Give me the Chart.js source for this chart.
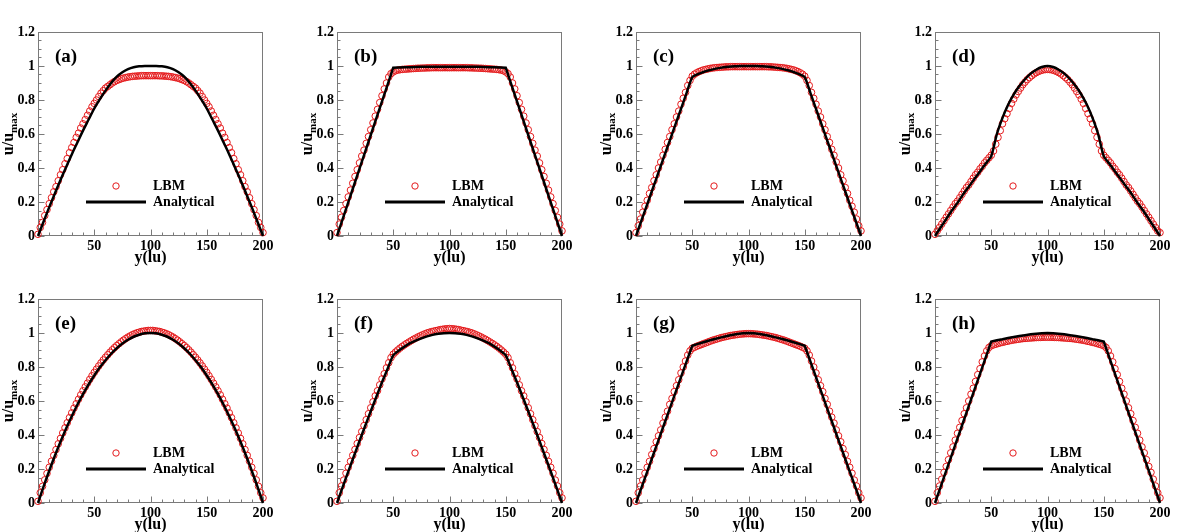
<!DOCTYPE html>
<html>
<head>
<meta charset="utf-8">
<script src="https://cdn.jsdelivr.net/npm/chart.js@4.4.1/dist/chart.umd.min.js"></script>
<style>
  body { margin: 0; background: #fff; }
  #wrap { position: relative; width: 1196px; height: 532px; }
  .cell { position: absolute; width: 299px; height: 266px; }
</style>
</head>
<body>
<div id="wrap"></div>
<script>
// sample positions across the channel (lu)
const X_LBM = [0,2,4,6,8,10,12,14,16,18,20,22,24,26,28,30,32,34,36,38,40,42,44,46,48,50,52,54,56,58,60,62,64,66,68,70,72,74,76,78,80,82,84,86,88,90,92,94,96,98,100,102,104,106,108,110,112,114,116,118,120,122,124,126,128,130,132,134,136,138,140,142,144,146,148,150,152,154,156,158,160,162,164,166,168,170,172,174,176,178,180,182,184,186,188,190,192,194,196,198,200];
const X_ANA = [0,5,10,15,20,25,30,35,40,45,50,55,60,65,70,75,80,85,90,95,100,105,110,115,120,125,130,135,140,145,150,155,160,165,170,175,180,185,190,195,200];

// (a)
const ANA_A = [0,0.085,0.17,0.25,0.33,0.405,0.48,0.55,0.62,0.685,0.75,0.805,0.855,0.9,0.937,0.963,0.982,0.993,0.998,1.0,1.0,1.0,0.998,0.993,0.982,0.963,0.937,0.9,0.855,0.805,0.75,0.685,0.62,0.55,0.48,0.405,0.33,0.25,0.17,0.085,0];
const LBM_A = [0.01,0.05,0.08,0.12,0.155,0.19,0.225,0.26,0.29,0.325,0.36,0.39,0.425,0.455,0.49,0.52,0.55,0.58,0.605,0.635,0.66,0.685,0.71,0.735,0.76,0.78,0.80,0.82,0.84,0.855,0.87,0.88,0.89,0.90,0.908,0.915,0.92,0.925,0.929,0.932,0.935,0.937,0.939,0.94,0.941,0.942,0.943,0.943,0.943,0.943,0.943,
  0.943,0.943,0.943,0.942,0.942,0.941,0.94,0.939,0.937,0.935,0.932,0.929,0.925,0.92,0.915,0.908,0.90,0.89,0.88,0.87,0.855,0.84,0.82,0.80,0.78,0.76,0.735,0.71,0.685,0.66,0.635,0.605,0.58,0.55,0.52,0.49,0.455,0.425,0.39,0.36,0.325,0.29,0.26,0.225,0.19,0.155,0.12,0.08,0.05,0.02];

// (b)
const ANA_B = [0,0.099,0.198,0.297,0.396,0.495,0.594,0.693,0.792,0.891,0.99,0.991,0.992,0.993,0.994,0.995,0.995,0.996,0.996,0.996,0.996,0.996,0.996,0.996,0.995,0.995,0.994,0.993,0.992,0.991,0.99,0.891,0.792,0.693,0.594,0.495,0.396,0.297,0.198,0.099,0];
const LBM_B = [0.02,0.07,0.11,0.15,0.19,0.23,0.27,0.31,0.35,0.39,0.43,0.47,0.505,0.545,0.585,0.625,0.665,0.705,0.745,0.785,0.825,0.865,0.90,0.935,0.955,0.965,0.972,0.976,0.978,0.98,0.981,0.982,0.983,0.984,0.985,0.986,0.987,0.987,0.988,0.988,0.989,0.989,0.99,0.99,0.99,0.99,0.99,0.99,0.99,0.99,0.99,
  0.99,0.99,0.99,0.99,0.99,0.99,0.99,0.99,0.989,0.989,0.988,0.988,0.987,0.987,0.986,0.985,0.984,0.983,0.982,0.981,0.98,0.978,0.976,0.972,0.965,0.955,0.935,0.90,0.865,0.825,0.785,0.745,0.705,0.665,0.625,0.585,0.545,0.505,0.47,0.43,0.39,0.35,0.31,0.27,0.23,0.19,0.15,0.11,0.07,0.03];

// (c)
const ANA_C = [0,0.094,0.187,0.281,0.374,0.468,0.561,0.655,0.748,0.842,0.935,0.952,0.965,0.975,0.983,0.989,0.994,0.997,0.999,1.0,1.0,1.0,0.999,0.997,0.994,0.989,0.983,0.975,0.965,0.952,0.935,0.842,0.748,0.655,0.561,0.468,0.374,0.281,0.187,0.094,0];
const LBM_C = [0.02,0.06,0.10,0.14,0.175,0.21,0.25,0.285,0.325,0.36,0.40,0.435,0.475,0.51,0.55,0.585,0.625,0.66,0.70,0.735,0.775,0.81,0.845,0.885,0.915,0.94,0.952,0.96,0.967,0.972,0.977,0.98,0.983,0.986,0.988,0.99,0.991,0.992,0.993,0.994,0.995,0.995,0.996,0.996,0.996,0.996,0.996,0.996,0.996,0.996,0.996,
  0.996,0.996,0.996,0.996,0.996,0.996,0.996,0.996,0.995,0.995,0.994,0.993,0.992,0.991,0.99,0.988,0.986,0.983,0.98,0.977,0.972,0.967,0.96,0.952,0.94,0.915,0.885,0.845,0.81,0.775,0.735,0.70,0.66,0.625,0.585,0.55,0.51,0.475,0.435,0.40,0.36,0.325,0.285,0.25,0.21,0.175,0.14,0.10,0.06,0.03];

// (d)
const ANA_D = [0,0.05,0.10,0.15,0.195,0.245,0.29,0.335,0.38,0.425,0.47,0.60,0.695,0.772,0.833,0.882,0.922,0.955,0.978,0.994,1.0,0.994,0.978,0.955,0.922,0.882,0.833,0.772,0.695,0.60,0.47,0.425,0.38,0.335,0.29,0.245,0.195,0.15,0.10,0.05,0];
const LBM_D = [0.01,0.03,0.05,0.07,0.09,0.11,0.13,0.15,0.17,0.19,0.205,0.225,0.245,0.265,0.285,0.30,0.32,0.34,0.36,0.375,0.395,0.41,0.43,0.445,0.46,0.475,0.50,0.54,0.58,0.62,0.66,0.69,0.72,0.75,0.78,0.805,0.83,0.85,0.87,0.89,0.905,0.92,0.932,0.943,0.953,0.961,0.968,0.973,0.977,0.979,0.98,
  0.979,0.977,0.973,0.968,0.961,0.953,0.943,0.932,0.92,0.905,0.89,0.87,0.85,0.83,0.805,0.78,0.75,0.72,0.69,0.66,0.62,0.58,0.54,0.50,0.475,0.46,0.445,0.43,0.41,0.395,0.375,0.36,0.34,0.32,0.30,0.285,0.265,0.245,0.225,0.205,0.19,0.17,0.15,0.13,0.11,0.09,0.07,0.05,0.03,0.02];

// (e)
const ANA_E = [0,0.098,0.19,0.278,0.36,0.438,0.51,0.578,0.64,0.698,0.75,0.798,0.84,0.878,0.91,0.938,0.96,0.978,0.99,0.998,1.0,0.998,0.99,0.978,0.96,0.938,0.91,0.878,0.84,0.798,0.75,0.698,0.64,0.578,0.51,0.438,0.36,0.278,0.19,0.098,0];
const LBM_E = [0.01,0.06,0.098,0.136,0.174,0.21,0.246,0.28,0.314,0.348,0.38,0.412,0.442,0.472,0.502,0.53,0.558,0.584,0.61,0.636,0.66,0.683,0.705,0.727,0.748,0.768,0.787,0.806,0.824,0.841,0.857,0.872,0.887,0.901,0.914,0.926,0.937,0.948,0.958,0.967,0.976,0.983,0.99,0.996,1.001,1.005,1.009,1.011,1.013,1.015,1.015,
  1.015,1.013,1.011,1.009,1.005,1.001,0.996,0.99,0.983,0.976,0.967,0.958,0.948,0.937,0.926,0.914,0.901,0.887,0.872,0.857,0.841,0.824,0.806,0.787,0.768,0.748,0.727,0.705,0.683,0.66,0.636,0.61,0.584,0.558,0.53,0.502,0.472,0.442,0.412,0.38,0.348,0.314,0.28,0.246,0.21,0.174,0.136,0.098,0.06,0.03];

// (f)
const ANA_F = [0,0.093,0.185,0.275,0.365,0.453,0.54,0.625,0.71,0.79,0.87,0.897,0.92,0.94,0.955,0.968,0.98,0.989,0.995,0.999,1.0,0.999,0.995,0.989,0.98,0.968,0.955,0.94,0.92,0.897,0.87,0.79,0.71,0.625,0.54,0.453,0.365,0.275,0.185,0.093,0];
const LBM_F = [0.01,0.06,0.10,0.135,0.175,0.21,0.245,0.28,0.315,0.35,0.385,0.42,0.455,0.49,0.525,0.56,0.595,0.63,0.66,0.695,0.73,0.76,0.795,0.825,0.855,0.875,0.888,0.90,0.911,0.921,0.93,0.939,0.947,0.955,0.963,0.97,0.977,0.983,0.989,0.995,1.0,1.004,1.008,1.011,1.014,1.017,1.02,1.022,1.024,1.025,1.026,
  1.025,1.024,1.022,1.02,1.017,1.014,1.011,1.008,1.004,1.0,0.995,0.989,0.983,0.977,0.97,0.963,0.955,0.947,0.939,0.93,0.921,0.911,0.90,0.888,0.875,0.855,0.825,0.795,0.76,0.73,0.695,0.66,0.63,0.595,0.56,0.525,0.49,0.455,0.42,0.385,0.35,0.315,0.28,0.245,0.21,0.175,0.135,0.10,0.06,0.03];

// (g)
const ANA_G = [0,0.093,0.185,0.278,0.37,0.463,0.555,0.648,0.74,0.833,0.925,0.936,0.946,0.956,0.965,0.973,0.981,0.988,0.994,0.998,1.0,0.998,0.994,0.988,0.981,0.973,0.965,0.956,0.946,0.936,0.925,0.833,0.74,0.648,0.555,0.463,0.37,0.278,0.185,0.093,0];
const LBM_G = [0.01,0.06,0.10,0.135,0.175,0.21,0.245,0.285,0.32,0.36,0.395,0.43,0.47,0.505,0.54,0.58,0.615,0.655,0.69,0.725,0.765,0.80,0.835,0.87,0.895,0.91,0.916,0.922,0.927,0.932,0.937,0.942,0.947,0.952,0.957,0.961,0.965,0.969,0.973,0.976,0.979,0.982,0.985,0.987,0.989,0.991,0.993,0.994,0.995,0.996,0.996,
  0.996,0.995,0.994,0.993,0.991,0.989,0.987,0.985,0.982,0.979,0.976,0.973,0.969,0.965,0.961,0.957,0.952,0.947,0.942,0.937,0.932,0.927,0.922,0.916,0.91,0.895,0.87,0.835,0.80,0.765,0.725,0.69,0.655,0.615,0.58,0.54,0.505,0.47,0.43,0.395,0.36,0.32,0.285,0.245,0.21,0.175,0.135,0.10,0.06,0.03];

// (h)
const ANA_H = [0,0.095,0.19,0.285,0.38,0.475,0.57,0.665,0.76,0.855,0.95,0.957,0.963,0.97,0.976,0.982,0.987,0.992,0.996,0.999,1.0,0.999,0.996,0.992,0.987,0.982,0.976,0.97,0.963,0.957,0.95,0.855,0.76,0.665,0.57,0.475,0.38,0.285,0.19,0.095,0];
const LBM_H = [0.01,0.06,0.10,0.14,0.18,0.215,0.255,0.295,0.33,0.37,0.41,0.445,0.485,0.525,0.56,0.60,0.64,0.675,0.715,0.755,0.79,0.83,0.865,0.895,0.915,0.925,0.93,0.934,0.938,0.942,0.945,0.948,0.951,0.954,0.957,0.959,0.961,0.963,0.965,0.967,0.968,0.969,0.97,0.971,0.972,0.973,0.974,0.974,0.975,0.975,0.975,
  0.975,0.975,0.974,0.974,0.973,0.972,0.971,0.97,0.969,0.968,0.967,0.965,0.963,0.961,0.959,0.957,0.954,0.951,0.948,0.945,0.942,0.938,0.934,0.93,0.925,0.915,0.895,0.865,0.83,0.79,0.755,0.715,0.675,0.64,0.60,0.56,0.525,0.485,0.445,0.41,0.37,0.33,0.295,0.255,0.215,0.18,0.14,0.10,0.06,0.03];

const PANEL_LABELS = ['(a)','(b)','(c)','(d)','(e)','(f)','(g)','(h)'];
const LBM_SETS = [LBM_A, LBM_B, LBM_C, LBM_D, LBM_E, LBM_F, LBM_G, LBM_H];
const ANA_SETS = [ANA_A, ANA_B, ANA_C, ANA_D, ANA_E, ANA_F, ANA_G, ANA_H];
const SMOOTH = [0.35, 0, 0.2, 0.2, 0.35, 0.15, 0, 0];   // line tension per panel
const X_TICK_LABELS = ['', '50', '100', '150', '200'];
const Y_TICK_LABELS = ['0', '0.2', '0.4', '0.6', '0.8', '1', '1.2'];
const SERIES_NAMES = ['LBM', 'Analytical'];

const FONT = '"Liberation Serif", "Times New Roman", serif';
const RED = 'rgb(228,26,28)';
const FRAME = '#7a7a7a';

const pts = (xs, ys) => xs.map((x, i) => ({ x, y: ys[i] }));

// box, inward ticks, legend, label and the u/u_max axis title
const panelPlugin = {
  id: 'panel',
  beforeDatasetsDraw(chart) {
    const { ctx, chartArea: a, scales: { x, y } } = chart;
    ctx.save();
    ctx.strokeStyle = FRAME;
    ctx.lineWidth = 1;
    const l = Math.round(a.left) + 0.5, t = Math.round(a.top) + 0.5;
    const r = Math.round(a.right) - 0.5, b = Math.round(a.bottom) - 0.5;
    ctx.strokeRect(l, t, r - l, b - t);
    ctx.beginPath();
    for (let v = 0; v <= 200; v += 10) {
      const px = Math.round(x.getPixelForValue(v)) + 0.5;
      ctx.moveTo(px, b);
      ctx.lineTo(px, b - (v % 50 === 0 ? 6 : 3));
    }
    for (let k = 0; k <= 24; k++) {
      const py = Math.round(y.getPixelForValue(k * 0.05)) + 0.5;
      ctx.moveTo(l, py);
      ctx.lineTo(l + (k % 4 === 0 ? 6 : 3), py);
    }
    ctx.stroke();
    ctx.restore();
  },
  afterDraw(chart) {
    const { ctx, chartArea: a } = chart;
    const idx = chart.options.plugins.panel.index;
    ctx.save();
    ctx.fillStyle = '#000';
    ctx.textBaseline = 'middle';
    ctx.font = 'bold 19px ' + FONT;
    ctx.fillText(PANEL_LABELS[idx], a.left + 17, a.top + 25);

    // legend
    ctx.strokeStyle = RED;
    ctx.lineWidth = 1;
    ctx.beginPath();
    ctx.arc(a.left + 78, a.top + 154, 3.2, 0, Math.PI * 2);
    ctx.stroke();
    ctx.strokeStyle = '#000';
    ctx.lineWidth = 3;
    ctx.beginPath();
    ctx.moveTo(a.left + 48, a.top + 170);
    ctx.lineTo(a.left + 108, a.top + 170);
    ctx.stroke();
    ctx.font = 'bold 14px ' + FONT;
    ctx.fillText(SERIES_NAMES[0], a.left + 115, a.top + 154);
    ctx.fillText(SERIES_NAMES[1], a.left + 115, a.top + 170);

    // y title with subscript
    ctx.translate(0, (a.top + a.bottom) / 2);
    ctx.rotate(-Math.PI / 2);
    ctx.textBaseline = 'alphabetic';
    ctx.font = 'bold 16px ' + FONT;
    const w1 = ctx.measureText('u/u').width;
    ctx.font = 'bold 11px ' + FONT;
    const w2 = ctx.measureText('max').width;
    const s = -(w1 + w2) / 2;
    ctx.font = 'bold 16px ' + FONT;
    ctx.fillText('u/u', s, 13);
    ctx.font = 'bold 11px ' + FONT;
    ctx.fillText('max', s + w1, 17);
    ctx.restore();
  }
};

const wrap = document.getElementById('wrap');
for (let i = 0; i < 8; i++) {
  const cell = document.createElement('div');
  cell.className = 'cell';
  cell.style.left = (i % 4) * 299 + 'px';
  cell.style.top = Math.floor(i / 4) * 267 + 'px';
  const cv = document.createElement('canvas');
  cv.width = 299; cv.height = 266;
  cell.appendChild(cv);
  wrap.appendChild(cell);

  new Chart(cv.getContext('2d'), {
    type: 'scatter',
    data: {
      datasets: [
        { label: SERIES_NAMES[1], data: pts(X_ANA, ANA_SETS[i]), showLine: true,
          borderColor: '#000', borderWidth: 2.5, pointRadius: 0, fill: false,
          tension: SMOOTH[i], clip: false },
        { label: SERIES_NAMES[0], data: pts(X_LBM, LBM_SETS[i]), showLine: false,
          pointStyle: 'circle', pointRadius: 3.3, pointBorderWidth: 1,
          borderColor: RED, backgroundColor: 'rgba(0,0,0,0)', clip: false }
      ]
    },
    options: {
      responsive: false,
      animation: false,
      devicePixelRatio: 1,
      layout: { padding: { top: 32, right: 36, left: 0, bottom: 0 } },
      plugins: { legend: { display: false }, tooltip: { enabled: false }, panel: { index: i } },
      scales: {
        x: {
          type: 'linear', min: 0, max: 200,
          grid: { display: false, drawTicks: false }, border: { display: false },
          ticks: { stepSize: 50, autoSkip: false, maxRotation: 0, padding: 2, color: '#000',
            font: { family: FONT, size: 14, weight: 'bold' },
            callback: (v, k) => X_TICK_LABELS[k] ?? '' },
          title: { display: true, text: 'y(lu)', color: '#000', padding: 0,
            font: { family: FONT, size: 16, weight: 'bold', lineHeight: 1 } },
          afterFit(s) { s.height = 30; }
        },
        y: {
          min: 0, max: 1.2,
          grid: { display: false, drawTicks: false }, border: { display: false },
          ticks: { stepSize: 0.2, padding: 3, color: '#000',
            font: { family: FONT, size: 14, weight: 'bold' },
            callback: (v, k) => Y_TICK_LABELS[k] ?? '' },
          afterFit(s) { s.width = 38; }
        }
      }
    },
    plugins: [panelPlugin]
  });
}
</script>
</body>
</html>
